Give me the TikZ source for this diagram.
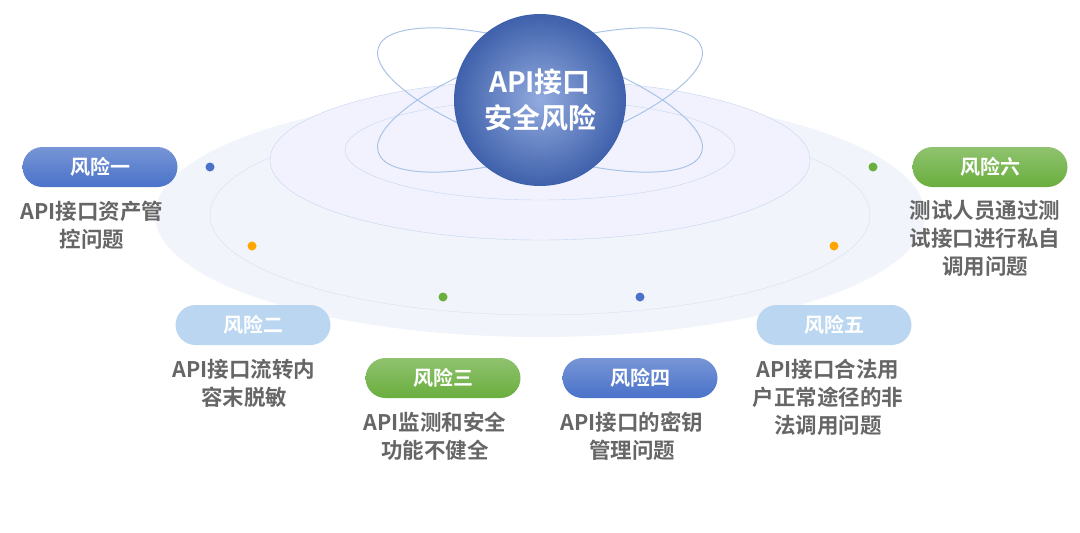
\documentclass[tikz,border=0pt]{standalone}
\usepackage{fontspec}
\setmainfont{Noto Sans CJK SC}[BoldFont={Noto Sans CJK SC Bold}]
\usetikzlibrary{positioning,shadings}
\definecolor{riskblue}{HTML}{4A72C9}
\definecolor{risklight}{HTML}{BBD6F0}
\definecolor{riskgreen}{HTML}{6AAE3E}
\definecolor{textgray}{HTML}{666666}
\definecolor{orbit}{HTML}{A9C3E6}
\definecolor{ringbg}{HTML}{F1F4FA}
\tikzset{
  pill/.style={rounded corners=20pt, minimum width=155pt, minimum height=40pt,
    text=white, font=\fontsize{20}{22}\selectfont\bfseries},
  desc/.style={align=center, text=textgray, font=\fontsize{21.5}{28}\selectfont\bfseries},
  dot/.style={circle, inner sep=0pt, minimum size=9pt}
}
\begin{document}
\begin{tikzpicture}[x=1pt,y=-1pt]
\useasboundingbox (0,0) rectangle (1080,533);
% rings
\fill[ringbg] (540,215) ellipse [x radius=385, y radius=122];
\draw[orbit!50] (540,215) ellipse [x radius=330, y radius=100];
\fill[blue!5] (540,160) ellipse [x radius=270, y radius=80];
\draw[orbit!70] (540,160) ellipse [x radius=270, y radius=80];
\draw[orbit!70] (540,150) ellipse [x radius=195, y radius=50];
% orbits
\draw[orbit, line width=1pt] (540,100) ellipse [x radius=170, y radius=52, rotate=-18];
\draw[orbit, line width=1pt] (540,100) ellipse [x radius=170, y radius=52, rotate=18];
% core
\shade[inner color=riskblue!60, outer color=riskblue!85!black] (540,100) circle (86);
\node[text=white, align=center, font=\fontsize{28}{36}\selectfont\bfseries] (core) at (540,100) {API接口\\安全风险};
% dots
\node[dot, fill=riskblue] (d1) at (210,167) {};
\node[dot, fill=orange!70!yellow] (d2) at (252,246) {};
\node[dot, fill=riskgreen] (d3) at (443,297) {};
\node[dot, fill=riskblue] (d4) at (640,297) {};
\node[dot, fill=orange!70!yellow] (d5) at (834,246) {};
\node[dot, fill=riskgreen] (d6) at (873,167) {};
% pills
\node[pill, top color=riskblue!75, bottom color=riskblue] (r1) at (100,167) {风险一};
\node[pill, fill=risklight] (r2) at (253,325) {风险二};
\node[pill, top color=riskgreen!75, bottom color=riskgreen] (r3) at (443,378) {风险三};
\node[pill, top color=riskblue!75, bottom color=riskblue] (r4) at (640,378) {风险四};
\node[pill, fill=risklight] (r5) at (834,325) {风险五};
\node[pill, top color=riskgreen!75, bottom color=riskgreen] (r6) at (990,167) {风险六};
% texts
\node[desc, below=10pt of r1, xshift=-8pt] {API接口资产管\\控问题};
\node[desc, below=10pt of r2, xshift=-9pt] {API接口流转内\\容末脱敏};
\node[desc, below=10pt of r3, xshift=-8pt] {API监测和安全\\功能不健全};
\node[desc, below=10pt of r4, xshift=-8pt] {API接口的密钥\\管理问题};
\node[desc, below=10pt of r5, xshift=-6pt] {API接口合法用\\户正常途径的非\\法调用问题};
\node[desc, below=10pt of r6, xshift=-5pt] {测试人员通过测\\试接口进行私自\\调用问题};
\end{tikzpicture}
\end{document}
